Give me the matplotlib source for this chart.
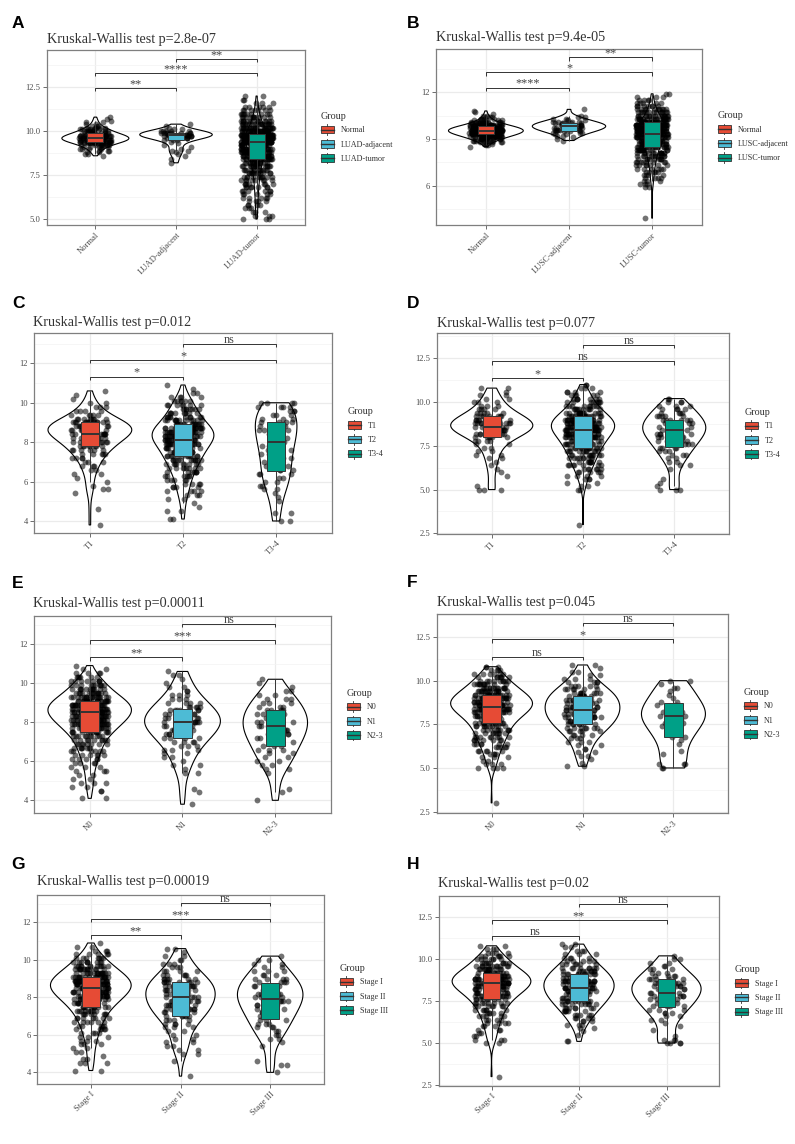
import numpy as np
import pandas as pd
import matplotlib
matplotlib.use("Agg")
import matplotlib.pyplot as plt
import seaborn as sns
from matplotlib.legend_handler import HandlerBase
from matplotlib.patches import Patch, Rectangle
from matplotlib.lines import Line2D
from matplotlib.ticker import AutoMinorLocator

plt.rcParams['font.family'] = ['Liberation Serif', 'DejaVu Serif']

W, H = 795, 1144
COLORS = ["#E64B35", "#4DBBD5", "#00A087"]

# Each group is given as a binned distribution:
# values start at *_start, go up in *_step, with *_counts points per bin.

# A - LUAD
a_groups = ["Normal", "LUAD-adjacent", "LUAD-tumor"]
a_start = [8.6, 8.2, 5.0]
a_step = [0.1, 0.1, 0.2]
a_counts = [
    [1, 2, 2, 3, 4, 6, 8, 11, 15, 18, 19, 18, 14, 11, 9, 7, 5, 3, 2, 2, 1, 1, 1],
    [1, 0, 1, 0, 1, 1, 1, 2, 1, 1, 1, 1, 1, 3, 5, 7, 10, 9, 5, 2, 1, 1, 1],
    [3, 3, 3, 3, 4, 4, 5, 5, 6, 7, 7, 8, 10, 11, 12, 15, 16, 22, 24, 26, 28, 24,
     44, 43, 42, 30, 24, 18, 14, 11, 9, 7, 5, 3, 2, 2],
]
a_signif = ["**", "****", "**"]
a_p = "2.8e-07"

# B - LUSC
b_groups = ["Normal", "LUSC-adjacent", "LUSC-tumor"]
b_start = [8.5, 8.9, 3.9]
b_step = [0.1, 0.1, 0.2]
b_counts = [
    [1, 2, 3, 5, 8, 11, 14, 18, 22, 25, 27, 27, 24, 20, 15, 11, 8, 5, 4, 3, 2, 1, 1, 1],
    [1, 1, 1, 2, 2, 3, 4, 5, 5, 6, 6, 5, 4, 3, 2, 2, 1, 0, 0, 0, 1],
    [1, 0, 0, 0, 0, 0, 0, 0, 0, 0, 2, 3, 3, 4, 4, 5, 6, 7, 8, 9, 11, 13, 15, 17,
     20, 24, 28, 32, 34, 34, 32, 28, 22, 17, 13, 10, 7, 5, 4, 3, 2],
]
b_signif = ["****", "*", "**"]
b_p = "9.4e-05"

# C - T stage (LUAD)
c_groups = ["T1", "T2", "T3-4"]
c_start = [3.8, 4.1, 4.0]
c_step = [0.2, 0.2, 0.2]
c_counts = [
    [1, 0, 0, 0, 1, 0, 0, 0, 1, 2, 1, 1, 1, 2, 2, 3, 3, 4, 5, 6, 8, 9, 10, 12, 18,
     16, 12, 8, 5, 4, 3, 2, 1, 1, 1],
    [2, 0, 2, 1, 1, 2, 3, 4, 4, 4, 5, 6, 7, 8, 9, 11, 12, 13, 14, 16, 18, 23, 22,
     18, 15, 12, 10, 9, 8, 7, 6, 4, 2, 1, 1],
    [2, 0, 2, 0, 0, 1, 1, 1, 2, 2, 2, 2, 3, 3, 2, 2, 2, 2, 3, 3, 3, 3, 3, 3, 4, 4,
     3, 3, 3, 4, 4],
]
c_signif = ["*", "*", "ns"]
c_p = "0.012"

# D - T stage (LUSC)
d_groups = ["T1", "T2", "T3-4"]
d_start = [5.0, 3.0, 5.0]
d_step = [0.2, 0.2, 0.2]
d_counts = [
    [3, 1, 0, 0, 1, 1, 1, 1, 1, 2, 2, 2, 2, 2, 4, 6, 8, 10, 13, 13, 9, 7, 5, 4, 3,
     3, 2, 2, 1, 2],
    [1, 0, 0, 0, 0, 0, 0, 0, 0, 0, 2, 2, 2, 3, 4, 5, 6, 7, 8, 9, 10, 11, 12, 14,
     15, 17, 19, 21, 24, 23, 21, 18, 15, 10, 9, 8, 7, 5, 4, 3, 2],
    [3, 1, 1, 1, 0, 0, 1, 2, 2, 2, 3, 3, 4, 4, 5, 5, 6, 7, 7, 6, 6, 5, 4, 4, 3, 3, 2],
]
d_signif = ["*", "ns", "ns"]
d_p = "0.077"

# E - N stage (LUAD)
e_groups = ["N0", "N1", "N2-3"]
e_start = [4.1, 3.8, 4.0]
e_step = [0.2, 0.2, 0.2]
e_counts = [
    [2, 0, 2, 2, 3, 2, 2, 3, 3, 4, 5, 6, 6, 7, 8, 9, 10, 14, 16, 18, 21, 24, 26,
     27, 26, 22, 18, 14, 12, 10, 8, 6, 4, 2, 1],
    [1, 0, 0, 1, 1, 0, 0, 0, 2, 1, 2, 1, 2, 2, 3, 3, 4, 4, 5, 6, 7, 7, 7, 6, 6, 5,
     4, 3, 3, 2, 2, 1, 1, 2, 1],
    [1, 0, 1, 1, 0, 0, 0, 1, 2, 2, 2, 2, 2, 3, 3, 3, 3, 4, 4, 4, 4, 4, 4, 4, 3, 3,
     3, 2, 2, 1, 1, 1],
]
e_signif = ["**", "***", "ns"]
e_p = "0.00011"

# F - N stage (LUSC)
f_groups = ["N0", "N1", "N2-3"]
f_start = [3.0, 5.1, 5.0]
f_step = [0.2, 0.2, 0.2]
f_counts = [
    [1, 0, 0, 0, 0, 0, 0, 0, 0, 0, 4, 3, 2, 3, 4, 5, 5, 6, 7, 8, 8, 9, 10, 11, 13,
     15, 18, 21, 23, 23, 21, 18, 15, 13, 11, 9, 7, 6, 4, 3],
    [2, 1, 1, 2, 2, 2, 2, 3, 3, 4, 5, 7, 7, 8, 8, 9, 9, 9, 9, 8, 9, 8, 6, 5, 4, 3,
     2, 2, 1, 2],
    [2, 3, 0, 0, 1, 1, 0, 1, 1, 2, 1, 1, 2, 2, 2, 3, 3, 2, 2, 2, 1, 1, 1, 2, 1, 2],
]
f_signif = ["ns", "*", "ns"]
f_p = "0.045"

# G - pathologic stage (LUAD)
g_groups = ["Stage I", "Stage II", "Stage III"]
g_start = [4.1, 3.8, 4.0]
g_step = [0.2, 0.2, 0.2]
g_counts = [
    [2, 0, 3, 2, 1, 2, 2, 3, 3, 3, 4, 5, 5, 6, 7, 8, 9, 11, 13, 15, 18, 20, 22, 23,
     22, 19, 16, 13, 11, 9, 7, 5, 3, 2, 1],
    [1, 0, 0, 0, 1, 0, 2, 2, 2, 2, 2, 2, 2, 3, 4, 4, 6, 6, 7, 7, 8, 8, 8, 7, 9, 8,
     6, 5, 4, 3, 3, 2, 2, 1, 2],
    [1, 0, 2, 1, 0, 0, 0, 1, 1, 2, 2, 2, 3, 3, 3, 3, 4, 4, 4, 5, 5, 5, 5, 5, 4, 4,
     3, 3, 2, 2, 2, 1],
]
g_signif = ["**", "***", "ns"]
g_p = "0.00019"

# H - pathologic stage (LUSC)
h_groups = ["Stage I", "Stage II", "Stage III"]
h_start = [3.0, 5.1, 5.0]
h_step = [0.2, 0.2, 0.2]
h_counts = [
    [1, 0, 0, 0, 0, 0, 0, 0, 0, 0, 2, 3, 2, 2, 3, 3, 4, 4, 5, 5, 6, 7, 8, 9, 11,
     13, 15, 18, 20, 20, 18, 15, 12, 10, 9, 7, 6, 4, 3, 2],
    [2, 0, 1, 1, 2, 3, 3, 4, 5, 6, 7, 8, 9, 10, 11, 11, 12, 12, 12, 11, 10, 9, 8,
     6, 5, 4, 3, 3, 2, 2],
    [4, 3, 1, 0, 1, 1, 1, 2, 2, 3, 3, 4, 4, 5, 5, 5, 6, 6, 6, 5, 4, 3, 3, 2, 2, 2, 1],
]
h_signif = ["ns", "**", "ns"]
h_p = "0.02"

# layout in pixels of the 795x1144 canvas: axes box (left, top, right, bottom)
layout = [
    ("A", a_groups, a_start, a_step, a_counts, a_signif, a_p,
     dict(box=(47, 50, 305, 225), ylim=(4.66, 14.62), yticks=[5, 7.5, 10, 12.5], yfmt="{:.1f}",
          br=[12.45, 13.3, 14.1], letter=(12, 27.5), title=(47, 42.7))),
    ("B", b_groups, b_start, b_step, b_counts, b_signif, b_p,
     dict(box=(436, 49, 702, 225), ylim=(3.47, 14.78), yticks=[6, 9, 12], yfmt="{:.0f}",
          br=[12.3, 13.27, 14.25], letter=(407, 27.5), title=(436, 41))),
    ("C", c_groups, c_start, c_step, c_counts, c_signif, c_p,
     dict(box=(34, 333, 332, 533), ylim=(3.39, 13.54), yticks=[4, 6, 8, 10, 12], yfmt="{:.0f}",
          br=[11.32, 12.17, 13.0], letter=(12, 308), title=(33, 326))),
    ("D", d_groups, d_start, d_step, d_counts, d_signif, d_p,
     dict(box=(437, 333, 729, 534), ylim=(2.46, 13.95), yticks=[2.5, 5, 7.5, 10, 12.5], yfmt="{:.1f}",
          br=[11.37, 12.33, 13.28], letter=(407, 308), title=(437, 327))),
    ("E", e_groups, e_start, e_step, e_counts, e_signif, e_p,
     dict(box=(34, 616, 331, 813), ylim=(3.35, 13.44), yticks=[4, 6, 8, 10, 12], yfmt="{:.0f}",
          br=[11.32, 12.19, 13.04], letter=(12, 588), title=(33, 606.5))),
    ("F", f_groups, f_start, f_step, f_counts, f_signif, f_p,
     dict(box=(437, 614, 728, 813), ylim=(2.42, 13.82), yticks=[2.5, 5, 7.5, 10, 12.5], yfmt="{:.1f}",
          br=[11.37, 12.37, 13.33], letter=(407, 587), title=(437, 606))),
    ("G", g_groups, g_start, g_step, g_counts, g_signif, g_p,
     dict(box=(37, 895, 324, 1084), ylim=(3.38, 13.46), yticks=[4, 6, 8, 10, 12], yfmt="{:.0f}",
          br=[11.31, 12.18, 13.05], letter=(11, 869), title=(37, 885.5))),
    ("H", h_groups, h_start, h_step, h_counts, h_signif, h_p,
     dict(box=(439, 896, 719, 1086), ylim=(2.44, 13.77), yticks=[2.5, 5, 7.5, 10, 12.5], yfmt="{:.1f}",
          br=[11.36, 12.31, 13.3], letter=(407, 869), title=(438, 886.5))),
]


class BoxKey(HandlerBase):
    # ggplot-like boxplot legend key
    def create_artists(self, legend, orig, xd, yd, w, h, fontsize, trans):
        x0, y0 = -xd, -yd
        fc = orig.get_facecolor()
        box = Rectangle((x0, y0 + 0.15 * h), w, 0.7 * h, facecolor=fc,
                        edgecolor='#333333', lw=0.6, transform=trans)
        med = Line2D([x0, x0 + w], [y0 + 0.5 * h] * 2, color='#333333', lw=1.0, transform=trans)
        w1 = Line2D([x0 + w / 2] * 2, [y0, y0 + 0.15 * h], color='#333333', lw=0.6, transform=trans)
        w2 = Line2D([x0 + w / 2] * 2, [y0 + 0.85 * h, y0 + h], color='#333333', lw=0.6, transform=trans)
        return [box, med, w1, w2]


def expand(start, step, counts):
    vals = np.round(start + step * np.arange(len(counts)), 2)
    return np.repeat(vals, counts)


fig = plt.figure(figsize=(W / 100, H / 100), dpi=100)

for letter, groups, starts, steps, counts, signif, pval, lay in layout:
    l, t, r, b = lay["box"]
    ax = fig.add_axes([l / W, 1 - b / H, (r - l) / W, (b - t) / H])
    df = pd.DataFrame({
        "group": np.concatenate([[g] * int(sum(c)) for g, c in zip(groups, counts)]),
        "value": np.concatenate([expand(s, st, c) for s, st, c in zip(starts, steps, counts)]),
    })

    sns.stripplot(data=df, x="group", y="value", order=groups, color="black",
                  alpha=0.55, size=4.2, jitter=0.2, linewidth=0, ax=ax, zorder=1)
    sns.violinplot(data=df, x="group", y="value", order=groups, fill=False, color="black",
                   inner=None, cut=0, density_norm="area", width=0.9, linewidth=0.8, ax=ax)
    sns.boxplot(data=df, x="group", y="value", order=groups, hue="group", hue_order=groups,
                palette=COLORS, saturation=1, width=0.2, showfliers=False, showcaps=False,
                linecolor="#333333", linewidth=0.7, medianprops=dict(linewidth=1.4),
                legend=False, ax=ax)
    # boxes sit on top of the jittered points
    for p in ax.patches:
        p.set_zorder(3)
    for ln in ax.lines:
        ln.set_zorder(4)

    ymin, ymax = lay["ylim"]
    ax.set_xlim(-0.6, 2.6)
    ax.set_ylim(ymin, ymax)
    ax.set_yticks(lay["yticks"])
    ax.set_yticklabels([lay["yfmt"].format(v) for v in lay["yticks"]])
    ax.yaxis.set_minor_locator(AutoMinorLocator(2))
    ax.set_xticks(range(3))
    ax.set_xticklabels(groups, rotation=45, ha="right", va="top", rotation_mode="anchor")
    ax.set_xlabel("")
    ax.set_ylabel("")
    ax.set_axisbelow(True)
    ax.grid(which="major", color="#EBEBEB", lw=0.9)
    ax.grid(which="minor", axis="y", color="#F3F3F3", lw=0.5)
    ax.tick_params(which="minor", length=0)
    ax.tick_params(which="major", length=3, width=0.6, color="#555555", labelsize=6.2,
                   labelcolor="#4D4D4D", pad=1.5)
    for s in ax.spines.values():
        s.set_color("#7F7F7F")
        s.set_linewidth(0.9)

    # significance brackets
    px_per_unit = (b - t) / (ymax - ymin)
    tip = 3.3 / px_per_unit
    for (i, j), y, lab in zip([(0, 1), (0, 2), (1, 2)], lay["br"], signif):
        ax.plot([i, i, j, j], [y - tip, y, y, y - tip], color="#333333", lw=0.7,
                solid_capstyle="butt", clip_on=False)
        ax.text((i + j) / 2, y + 1.0 / px_per_unit, lab, ha="center", va="baseline",
                fontsize=8.8, color="#444444")

    handles = [Patch(facecolor=c) for c in COLORS]
    leg = ax.legend(handles, groups, title="Group", loc="center left", bbox_to_anchor=(1, 0.5),
                    frameon=False, fontsize=5.9, title_fontsize=7.3, alignment="left",
                    handler_map={Patch: BoxKey()}, handlelength=1.65, handleheight=1.6,
                    labelspacing=0.45, handletextpad=0.8, borderpad=0, borderaxespad=1.9)
    leg.get_title().set_color("#333333")
    for txt in leg.get_texts():
        txt.set_color("#333333")

    tx, ty = lay["title"]
    fig.text(tx / W, 1 - ty / H, f"Kruskal-Wallis test p={pval}", fontsize=10.2,
             color="#333333", ha="left", va="baseline")
    lx, ly = lay["letter"]
    fig.text(lx / W, 1 - ly / H, letter, fontsize=12.5, fontweight="bold",
             family="Liberation Sans", ha="left", va="baseline", color="black")

fig.savefig("out.png", dpi=100, facecolor="white")
